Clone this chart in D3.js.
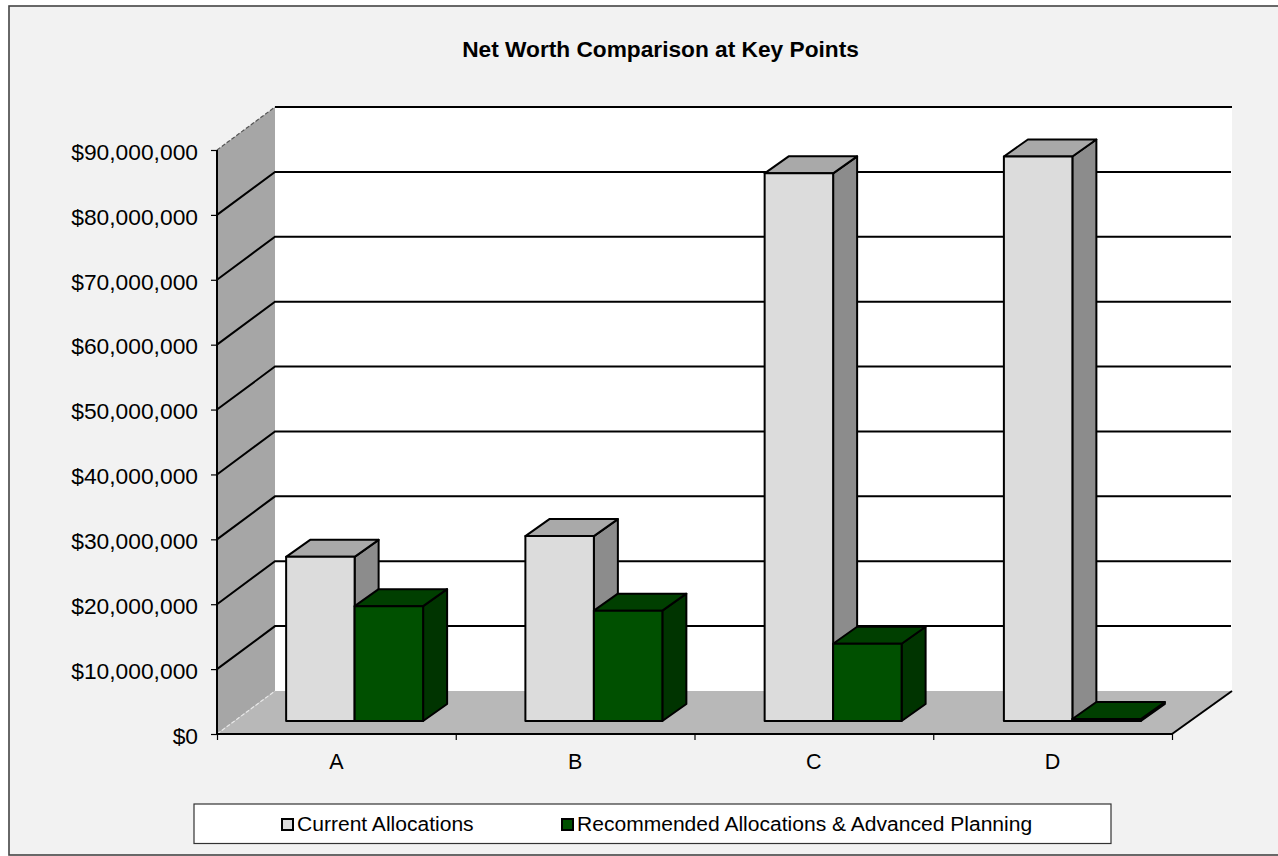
<!DOCTYPE html>
<html>
<head>
<meta charset="utf-8">
<script src="https://cdn.jsdelivr.net/npm/d3@7"></script>
<style>
  html, body { margin: 0; padding: 0; background: #fff; overflow: hidden; }
  text { font-family: "Liberation Sans", Arial, sans-serif; fill: #000; }
</style>
</head>
<body>
<div id="my_dataviz"></div>
<script>
var categories = ["A", "B", "C", "D"];
var seriesNames = ["Current Allocations", "Recommended Allocations & Advanced Planning"];
var currentAllocations = [25300000, 28500000, 84400000, 87000000];
var recommendedAllocations = [17700000, 17000000, 11900000, 300000];
var yTicks = [0, 10000000, 20000000, 30000000, 40000000, 50000000, 60000000, 70000000, 80000000, 90000000];

var colors = [
    {front: "#dcdcdc", top: "#a9a9a9", side: "#8c8c8c"},
    {front: "#005000", top: "#003f00", side: "#003400"}
];

var width = 1278, height = 856;
var svg = d3.select("#my_dataviz").append("svg")
    .attr("width", width)
    .attr("height", height)
    .style("display", "block");

// chart area, the right edge runs off the picture
svg.append("rect").attr("x", 9).attr("y", 6).attr("width", 1290).attr("height", 849)
    .attr("fill", "#f2f2f2").attr("stroke", "#444").attr("stroke-width", 1.6);

svg.append("text").attr("x", 660.5).attr("y", 57)
    .attr("text-anchor", "middle").style("font-size", "22.7px").style("font-weight", "bold")
    .text("Net Worth Comparison at Key Points");

// 3d frame
var left = 217, right = 1172, bottom = 734, top_ = 150;
var wallDx = 58, wallDy = -43;   // depth of the whole box
var barDx = 24, barDy = -17;     // depth of one bar
var gapDx = 18, gapDy = -13;     // floor in front of the bars

var y = d3.scaleLinear().domain([0, 90000000]).range([bottom, top_]);
var x = d3.scaleBand().domain(categories).range([left, right])
    .paddingInner(0.425).paddingOuter(0.2125);
// bars run a touch wider than the axis in the original
var xBars = d3.scaleBand().domain(categories).range([left, right + 2])
    .paddingInner(0.4275).paddingOuter(0.21375);
var xSeries = d3.scaleBand().domain([0, 1]).range([0, xBars.bandwidth()]);

function poly(pts) { return pts.map(function(p) { return p.join(","); }).join(" "); }

// back wall
svg.append("polygon")
    .attr("points", poly([[left + wallDx, y(90000000) + wallDy], [right + wallDx + 2, y(90000000) + wallDy],
        [right + wallDx + 2, bottom + wallDy], [left + wallDx, bottom + wallDy]]))
    .attr("fill", "#fff");
// side wall
svg.append("polygon")
    .attr("points", poly([[left, y(90000000)], [left + wallDx, y(90000000) + wallDy],
        [left + wallDx, bottom + wallDy], [left, bottom]]))
    .attr("fill", "#a6a6a6");
// floor
svg.append("polygon")
    .attr("points", poly([[left, bottom], [left + wallDx, bottom + wallDy],
        [right + wallDx + 2, bottom + wallDy], [right, bottom]]))
    .attr("fill", "#b8b8b8");

// gridlines, up the side wall and along the back
var grid = svg.append("g").attr("fill", "none").attr("stroke", "#000").attr("stroke-width", 2);
yTicks.filter(function(d) { return d > 0 && d < 90000000; }).forEach(function(d) {
    grid.append("polyline")
        .attr("points", poly([[left, y(d)], [left + wallDx, y(d) + wallDy], [right + wallDx + 1, y(d) + wallDy]]));
});
// the top one is only faint on the wall
grid.append("line")
    .attr("x1", left + wallDx).attr("y1", y(90000000) + wallDy)
    .attr("x2", right + wallDx + 2).attr("y2", y(90000000) + wallDy);
grid.append("line")
    .attr("x1", left).attr("y1", y(90000000)).attr("x2", left + wallDx).attr("y2", y(90000000) + wallDy)
    .attr("stroke", "#555").attr("stroke-width", 1.2).attr("stroke-dasharray", "4 2");

// floor edges
svg.append("line").attr("x1", left).attr("y1", bottom).attr("x2", left + wallDx).attr("y2", bottom + wallDy)
    .attr("stroke", "#e8e8e8").attr("stroke-width", 1.2).attr("stroke-dasharray", "4 2");
svg.append("line").attr("x1", right).attr("y1", bottom).attr("x2", right + wallDx + 2).attr("y2", bottom + wallDy)
    .attr("stroke", "#000").attr("stroke-width", 2);

// bars
[currentAllocations, recommendedAllocations].forEach(function(values, s) {
    var g = svg.append("g").attr("stroke", "#000").attr("stroke-width", 2).attr("stroke-linejoin", "round");
    values.forEach(function(v, i) {
        var x0 = xBars(categories[i]) + xSeries(s) + gapDx;
        var x1 = x0 + xSeries.bandwidth();
        var y0 = y(0) + gapDy;
        var y1 = y(v) + gapDy;
        g.append("polygon")
            .attr("points", poly([[x1, y1], [x1 + barDx, y1 + barDy], [x1 + barDx, y0 + barDy], [x1, y0]]))
            .attr("fill", colors[s].side);
        g.append("polygon")
            .attr("points", poly([[x0, y1], [x0 + barDx, y1 + barDy], [x1 + barDx, y1 + barDy], [x1, y1]]))
            .attr("fill", colors[s].top);
        g.append("rect")
            .attr("x", x0).attr("y", y1).attr("width", x1 - x0).attr("height", y0 - y1)
            .attr("fill", colors[s].front);
    });
});

// axes
var yAxis = svg.append("g").attr("transform", "translate(" + left + ",0)")
    .call(d3.axisLeft(y).tickValues(yTicks).tickSize(6).tickPadding(13).tickFormat(d3.format("$,")));
var xAxis = svg.append("g").attr("transform", "translate(0," + bottom + ")")
    .call(d3.axisBottom(x).tickSize(0).tickPadding(20));
// ticks sit between the categories
var xBounds = d3.scaleLinear().domain([0, categories.length]).range([left, right]);
var xTicks = svg.append("g").attr("transform", "translate(0," + bottom + ")")
    .call(d3.axisBottom(xBounds).tickValues(d3.range(categories.length + 1)).tickSize(6).tickFormat(""));

[yAxis, xAxis, xTicks].forEach(function(a) {
    a.selectAll("path").attr("stroke", "#000").attr("stroke-width", 2);
    a.selectAll("line").attr("stroke", "#000").attr("stroke-width", 1.2);
    a.selectAll("text").style("font-size", "21.5px").style("font-family", '"Liberation Sans", Arial, sans-serif').attr("fill", "#000");
});
yAxis.selectAll("text").style("font-size", "22.8px").attr("y", 2);
yAxis.selectAll("path").attr("d", "M0," + y(90000000) + "V" + y(0));
xAxis.selectAll("path").attr("d", "M" + left + ",0H" + right);
xTicks.selectAll("path").remove();

// legend
var legend = svg.append("g");
legend.append("rect").attr("x", 194).attr("y", 804).attr("width", 917).attr("height", 39.5)
    .attr("fill", "#fff").attr("stroke", "#333").attr("stroke-width", 1.2);
var legendX = [282, 562];
seriesNames.forEach(function(name, s) {
    legend.append("rect").attr("x", legendX[s]).attr("y", 819).attr("width", 11).attr("height", 11)
        .attr("fill", colors[s].front).attr("stroke", "#000").attr("stroke-width", 2);
    legend.append("text").attr("x", legendX[s] + 15).attr("y", 831)
        .style("font-size", "21.05px").text(name);
});
</script>
</body>
</html>
